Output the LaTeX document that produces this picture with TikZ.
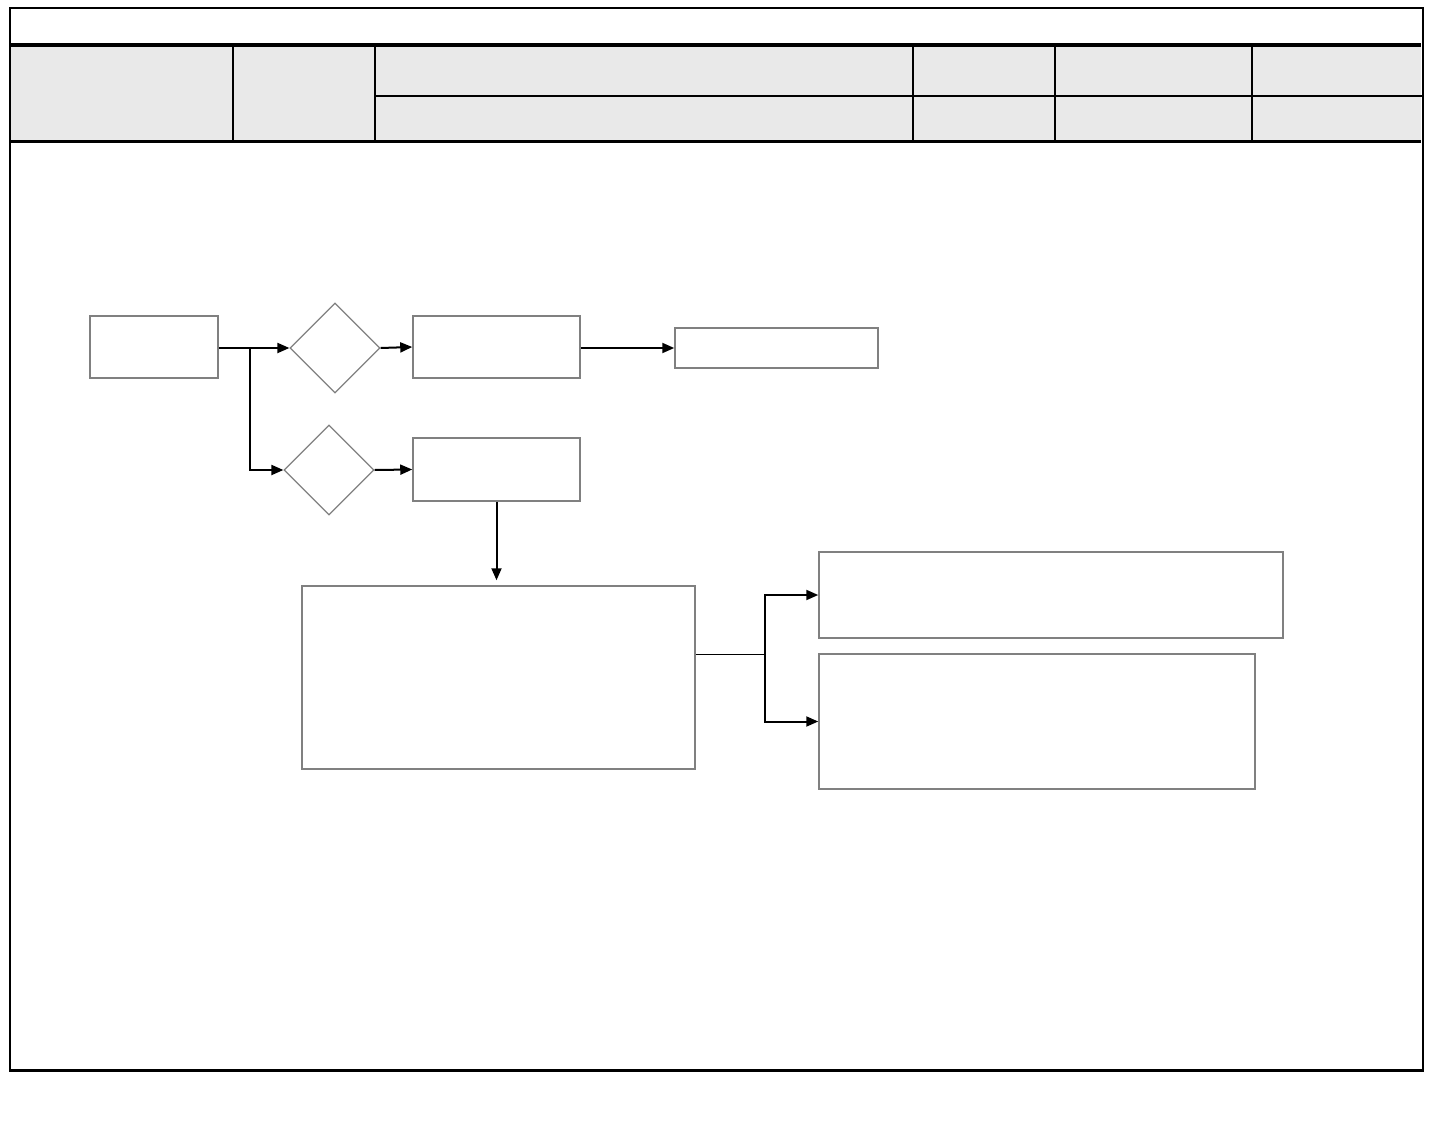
\documentclass[tikz,border=0pt]{standalone}
\usepackage{tikz}
\usetikzlibrary{arrows.meta,shapes.geometric}
\usepackage[dvipsnames,svgnames,x11names]{xcolor}

\definecolor{headgray}{HTML}{E9E9E9}
\definecolor{boxgray}{HTML}{808080}

\begin{document}
\begin{tikzpicture}[x=1pt, y=-1pt, >={Triangle[length=12pt,width=10pt]}]

\useasboundingbox (0,0) rectangle (1440,1137);

% ---------------- MARC ----------------

\fill[
    headgray
] (10,47) rectangle (1421,140);

\draw[
    line width=2pt
] (10,8) rectangle (1423,1071);

\draw[
    line width=3pt
] (10,1070) -- (1423,1070);

\draw[
    line width=4pt
] (10,45) -- (1421,45);

\draw[
    line width=3pt
] (10,142) -- (1421,142);

\draw[
    line width=2pt
] (375,96) -- (1423,96);

\foreach \xcol/\ytop in {233/47, 375/47, 913/47, 1055/47, 1252/47}
    \draw[line width=2pt] (\xcol,\ytop) -- (\xcol,141);


% ---------------- CAIXES ----------------

\tikzset{
    box/.style={
        draw=boxgray,
        line width=1.5pt,
        fill=white,
        inner sep=0pt
    },
    decision/.style={
        draw=boxgray,
        line width=1.2pt,
        diamond,
        aspect=1,
        minimum size=90pt,
        inner sep=0pt
    },
    conn/.style={
        line width=2pt,
        black
    }
}

\node[box, minimum width=128pt, minimum height=62pt] (start) at (154,347) {};

\node[decision] (dec1) at (335,348) {};
\node[decision] (dec2) at (329,470) {};

\node[box, minimum width=167pt, minimum height=62pt] (procA) at (496.5,347) {};
\node[box, minimum width=203pt, minimum height=40pt] (outA) at (776.5,348) {};

\node[box, minimum width=167pt, minimum height=63pt] (procB) at (496.5,469.5) {};

\node[box, minimum width=393pt, minimum height=183pt] (merge) at (498.5,677.5) {};

\node[box, minimum width=464pt, minimum height=86pt] (outB1) at (1051,595) {};
\node[box, minimum width=436pt, minimum height=135pt] (outB2) at (1037,721.5) {};


% ---------------- CONNECTORS ----------------

\coordinate (fork) at (250,348);
\coordinate (split) at (765,654);

\draw[conn, ->] (start.east |- dec1.west) -- (dec1.west);
\draw[conn, ->] (fork) |- (dec2.west);

\draw[conn, ->] (dec1.east) -- (procA.west);
\draw[conn, ->] (dec2.east) -- (procB.west);

\draw[conn, ->] (procA.east |- outA.west) -- (outA.west);

\draw[conn, ->, shorten >=5pt] (procB.south) -- (procB.south |- merge.north);

\draw[
    line width=1pt
] (merge.east |- split) -- (split);

\draw[conn, ->] (split) |- (outB1.west);
\draw[conn, ->] (split) |- (outB2.west);

\end{tikzpicture}
\end{document}
